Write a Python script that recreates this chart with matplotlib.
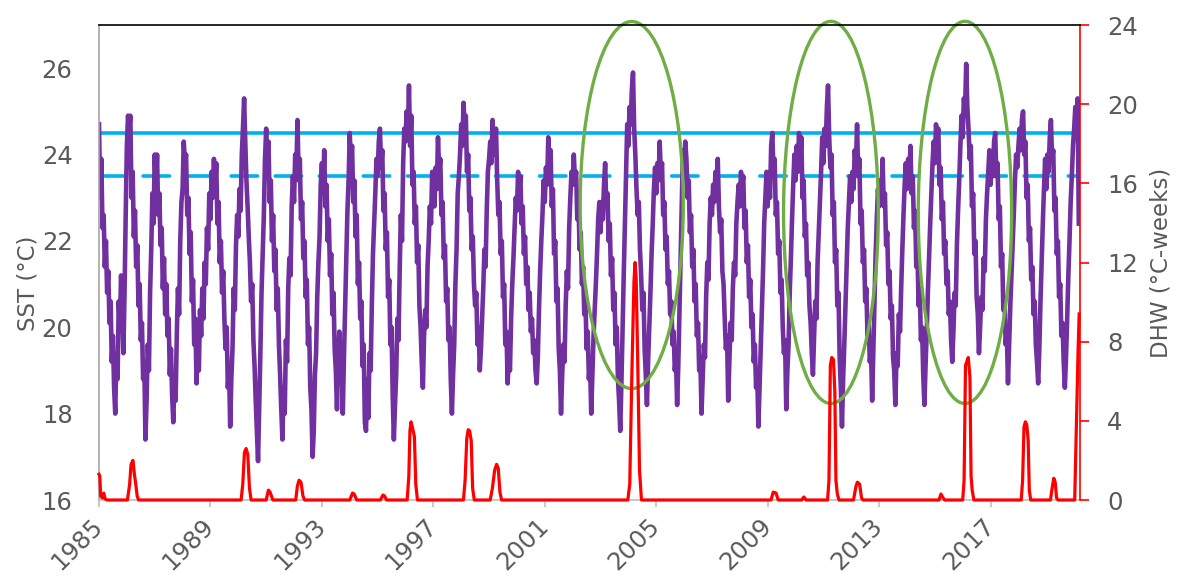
import matplotlib as mpl
import matplotlib.pyplot as plt
from matplotlib.patches import Ellipse
from matplotlib.transforms import ScaledTranslation
import numpy as np
mpl.use('agg')

sst_start = 1985.0
sst_per_year = 24
sst = [
    24.7, 23.0, 23.9, 22.3, 22.6, 21.4, 22.0, 20.8, 21.3, 20.1, 20.6, 19.2, 19.8, 18.6, 18.0, 19.4, 18.8, 20.6, 20.0, 21.2, 20.5, 19.4, 20.8, 22.6,  # 1985
    24.2, 24.9, 24.6, 24.9, 23.0, 23.6, 22.1, 22.7, 21.4, 21.9, 20.5, 21.0, 19.7, 20.1, 18.8, 19.2, 17.4, 18.3, 19.6, 19.0, 20.8, 21.8, 23.1, 22.4,  # 1986
    24.0, 23.2, 24.0, 22.6, 23.1, 21.9, 22.3, 20.9, 21.6, 20.3, 21.0, 19.8, 20.2, 18.9, 19.5, 18.4, 17.8, 18.9, 18.3, 19.8, 20.9, 20.3, 22.0, 22.9,  # 1987
    23.2, 24.3, 23.8, 24.0, 22.6, 23.0, 21.7, 22.2, 20.6, 21.1, 19.6, 20.2, 18.7, 19.6, 19.0, 20.4, 19.8, 20.9, 20.2, 21.5, 21.0, 22.3, 21.8, 23.1,  # 1988
    22.5, 23.6, 23.0, 23.9, 23.2, 23.8, 22.4, 22.9, 21.5, 22.0, 20.8, 21.3, 20.2, 19.5, 20.0, 18.6, 19.1, 17.7, 18.8, 19.5, 20.9, 20.4, 21.9, 22.6,  # 1989
    22.1, 23.2, 22.7, 24.0, 24.6, 25.3, 24.3, 23.4, 22.8, 22.1, 21.5, 20.6, 21.0, 19.7, 19.1, 18.3, 17.6, 16.9, 18.1, 19.4, 20.8, 21.7, 22.6, 23.9,  # 1990
    24.6, 23.6, 24.3, 22.9, 23.4, 22.0, 22.6, 21.3, 21.8, 20.4, 20.9, 19.6, 18.9, 18.1, 17.4, 18.6, 18.0, 19.7, 19.2, 20.9, 21.6, 21.2, 22.8, 23.5,  # 1991
    22.9, 24.0, 23.6, 24.8, 23.4, 23.9, 22.5, 22.9, 21.6, 22.0, 20.7, 21.1, 19.6, 20.0, 18.6, 18.1, 17.0, 17.6, 18.9, 19.4, 20.7, 21.5, 22.1, 23.3,  # 1992
    23.8, 23.1, 24.1, 22.8, 23.3, 22.0, 22.5, 21.2, 21.7, 20.3, 20.8, 19.5, 19.0, 18.1, 19.2, 19.9, 18.7, 19.4, 18.0, 19.3, 20.4, 21.4, 22.7, 23.4,  # 1993
    24.5, 23.8, 24.2, 22.9, 23.4, 22.1, 22.6, 21.0, 21.5, 20.2, 20.6, 19.1, 19.6, 17.8, 17.6, 18.8, 17.9, 19.4, 19.0, 20.5, 21.7, 22.4, 23.1, 23.9,  # 1994
    23.5, 24.3, 24.6, 23.7, 24.1, 22.7, 23.1, 21.8, 22.2, 20.7, 21.1, 19.6, 20.0, 18.4, 17.4, 18.2, 18.9, 20.2, 19.7, 21.3, 22.6, 22.0, 23.8, 24.6,  # 1995
    24.3, 25.0, 24.4, 25.6, 24.2, 24.9, 23.3, 23.6, 22.4, 22.8, 21.5, 21.9, 20.5, 20.0, 19.2, 18.6, 19.8, 20.4, 20.0, 21.4, 22.0, 22.8, 22.4, 23.6,  # 1996
    23.1, 22.8, 23.7, 23.2, 24.4, 23.6, 23.9, 22.6, 22.9, 21.6, 21.9, 20.6, 20.9, 19.7, 20.0, 18.8, 18.0, 18.9, 19.6, 21.0, 21.8, 23.1, 23.5, 24.0,  # 1997
    24.7, 24.2, 25.2, 24.6, 24.9, 23.6, 24.0, 22.7, 23.0, 21.8, 22.1, 21.0, 20.5, 20.8, 19.6, 20.0, 19.0, 19.5, 20.2, 20.9, 21.8, 21.4, 22.7, 23.6,  # 1998
    23.9, 24.3, 23.8, 24.8, 24.0, 24.2, 24.6, 23.4, 22.6, 22.9, 21.7, 22.0, 20.7, 21.0, 19.6, 19.9, 18.7, 19.3, 19.0, 20.2, 21.0, 21.6, 22.3, 23.0,  # 1999
    22.7, 23.6, 23.2, 23.5, 22.4, 22.8, 21.7, 22.1, 21.0, 21.4, 20.4, 20.8, 19.9, 20.2, 19.4, 19.7, 19.0, 18.7, 19.3, 20.4, 21.3, 22.0, 22.6, 23.4,  # 2000
    22.9, 23.7, 23.3, 24.4, 23.8, 24.1, 22.8, 23.2, 21.7, 22.0, 20.6, 20.9, 19.5, 19.0, 18.0, 18.9, 19.6, 19.2, 20.5, 21.3, 20.9, 22.3, 23.0, 23.6,  # 2001
    23.3, 24.0, 23.4, 23.6, 22.5, 22.9, 21.8, 22.2, 21.0, 21.4, 20.3, 20.7, 19.5, 19.9, 18.8, 19.2, 18.0, 18.9, 19.8, 20.4, 21.0, 21.7, 22.5, 22.9,  # 2002
    22.2, 22.9, 22.5, 23.3, 23.8, 22.8, 23.1, 22.0, 22.4, 21.2, 21.6, 20.4, 20.8, 19.6, 20.0, 18.8, 18.3, 17.6, 18.7, 20.0, 21.2, 22.4, 23.6, 24.7,  # 2003
    24.2, 25.1, 24.7, 25.5, 25.9, 24.6, 24.0, 23.2, 22.6, 22.9, 21.8, 21.2, 20.4, 20.8, 19.5, 18.9, 18.2, 19.2, 20.0, 20.8, 21.7, 22.4, 23.2, 23.7,  # 2004
    23.1, 23.8, 23.4, 24.3, 23.5, 23.8, 22.6, 22.9, 21.8, 22.1, 21.0, 21.3, 20.3, 20.6, 19.6, 19.9, 19.0, 19.3, 18.2, 19.1, 20.3, 21.6, 22.9, 24.1,  # 2005
    23.6, 24.3, 23.9, 23.0, 23.4, 22.2, 22.6, 21.4, 21.8, 20.6, 21.0, 19.8, 20.1, 19.0, 19.3, 18.0, 18.8, 19.6, 19.3, 20.7, 21.5, 21.1, 22.4, 23.0,  # 2006
    22.6, 23.3, 22.9, 23.6, 23.2, 23.9, 22.8, 22.2, 22.5, 21.3, 21.0, 20.2, 19.5, 19.8, 18.3, 19.2, 20.1, 19.7, 20.9, 21.5, 21.2, 22.4, 22.9, 23.3,  # 2007
    22.8, 23.6, 23.3, 23.5, 22.3, 22.7, 21.5, 21.9, 20.7, 21.1, 20.0, 20.3, 19.2, 19.6, 18.6, 18.9, 17.7, 18.6, 19.5, 20.4, 21.3, 22.4, 23.0, 23.6,  # 2008
    22.8, 23.5, 23.0, 24.2, 24.5, 23.6, 23.9, 22.6, 22.9, 21.7, 22.0, 20.8, 21.1, 20.0, 19.4, 19.7, 18.1, 19.0, 19.6, 20.8, 21.6, 22.5, 23.3, 24.0,  # 2009
    23.4, 24.2, 23.6, 24.5, 23.8, 24.4, 23.0, 23.4, 22.1, 22.4, 21.2, 21.5, 20.5, 20.1, 19.4, 18.9, 19.8, 20.6, 20.2, 21.5, 22.2, 22.9, 23.6, 24.4,  # 2010
    23.8, 24.6, 24.2, 25.1, 25.6, 24.4, 23.7, 24.0, 22.6, 22.9, 21.5, 21.8, 20.5, 20.8, 19.3, 18.6, 17.7, 18.8, 19.6, 20.5, 21.4, 22.3, 22.9, 23.5,  # 2011
    22.9, 23.6, 23.2, 24.1, 23.7, 24.7, 23.5, 23.9, 22.4, 22.7, 21.5, 21.8, 20.6, 20.9, 19.8, 20.1, 19.2, 19.5, 18.3, 19.4, 20.6, 21.7, 22.5, 23.2,  # 2012
    22.8, 23.4, 23.0, 23.9, 22.8, 23.1, 21.9, 22.2, 21.0, 21.3, 20.2, 20.5, 19.3, 19.0, 18.2, 19.4, 19.1, 20.3, 19.9, 20.9, 21.8, 22.6, 23.3, 23.8,  # 2013
    23.2, 23.9, 23.5, 24.2, 23.1, 23.5, 22.3, 22.7, 21.4, 21.8, 20.5, 20.9, 19.7, 20.0, 18.9, 18.2, 19.1, 19.9, 20.8, 21.6, 22.4, 23.1, 23.8, 24.3,  # 2014
    23.8, 24.7, 24.4, 24.6, 23.3, 23.7, 22.5, 22.9, 21.7, 22.0, 21.0, 21.3, 20.3, 20.6, 19.7, 19.2, 19.9, 20.8, 20.5, 21.9, 22.7, 23.4, 24.2, 24.9,  # 2015
    24.4, 25.3, 25.0, 26.1, 25.1, 24.6, 23.9, 24.2, 22.8, 23.1, 21.7, 22.0, 20.7, 20.3, 19.4, 20.0, 20.7, 20.4, 21.6, 21.3, 22.5, 23.1, 23.6, 24.1,  # 2016
    23.3, 23.9, 23.5, 24.3, 24.5, 23.5, 23.8, 22.5, 22.8, 21.4, 21.7, 20.4, 20.7, 19.6, 19.9, 18.7, 19.6, 20.5, 21.2, 21.9, 22.6, 23.4, 24.0, 23.7,  # 2017
    24.2, 24.6, 24.1, 24.8, 25.0, 24.0, 24.3, 23.0, 23.3, 22.0, 22.3, 21.1, 21.4, 20.3, 20.6, 19.6, 19.2, 18.7, 19.5, 20.6, 21.5, 22.4, 23.2, 23.9,  # 2018
    23.2, 24.0, 23.6, 24.4, 24.8, 23.9, 24.1, 22.7, 23.0, 21.7, 22.0, 20.7, 21.0, 19.8, 20.1, 19.2, 18.6, 19.3, 20.2, 21.2, 22.0, 22.9, 23.5, 24.2,  # 2019
    24.6, 25.1, 24.8, 25.3, 22.4,  # 2020
]

# Degree Heating Weeks (deg C-weeks), time in decimal years
dhw_t = [1985.0, 1985.03, 1985.06, 1985.12, 1985.17, 1985.22, 1985.3,
         1986.02, 1986.1, 1986.15, 1986.22, 1986.27, 1986.32, 1986.37, 1986.42,
         1990.1, 1990.16, 1990.22, 1990.28, 1990.34, 1990.4, 1990.46,
         1991.0, 1991.08, 1991.14, 1991.24,
         1992.06, 1992.12, 1992.18, 1992.25, 1992.32, 1992.38,
         1994.0, 1994.1, 1994.16, 1994.25,
         1995.1, 1995.19, 1995.25, 1995.32,
         1996.06, 1996.12, 1996.16, 1996.2, 1996.26, 1996.32, 1996.37, 1996.43,
         1998.08, 1998.14, 1998.2, 1998.25, 1998.3, 1998.36, 1998.41, 1998.47,
         1999.04, 1999.12, 1999.2, 1999.27, 1999.33, 1999.39, 1999.45,
         2003.98, 2004.05, 2004.12, 2004.2, 2004.24, 2004.28, 2004.33, 2004.4, 2004.47,
         2009.12, 2009.2, 2009.3, 2009.38,
         2010.22, 2010.3, 2010.38,
         2011.15, 2011.2, 2011.25, 2011.3, 2011.36, 2011.41, 2011.45, 2011.5, 2011.56,
         2012.08, 2012.17, 2012.22, 2012.3, 2012.37, 2012.42,
         2015.15, 2015.22, 2015.28, 2015.35,
         2016.0, 2016.05, 2016.1, 2016.15, 2016.2, 2016.26, 2016.3, 2016.34, 2016.4,
         2018.1, 2018.15, 2018.2, 2018.25, 2018.3, 2018.35, 2018.39, 2018.44,
         2019.15, 2019.22, 2019.27, 2019.32, 2019.37, 2019.42,
         2020.02, 2020.06, 2020.1, 2020.14, 2020.18]
dhw = [1.3, 1.2, 0.2, 0.1, 0.35, 0.05, 0.0,
       0.0, 0.8, 1.8, 2.0, 1.3, 0.8, 0.2, 0.0,
       0.0, 0.8, 2.4, 2.6, 2.3, 0.6, 0.0,
       0.0, 0.5, 0.4, 0.0,
       0.0, 0.7, 1.0, 0.9, 0.2, 0.0,
       0.0, 0.35, 0.3, 0.0,
       0.0, 0.25, 0.2, 0.0,
       0.0, 1.2, 3.5, 3.95, 3.6, 3.2, 0.8, 0.0,
       0.0, 1.0, 3.1, 3.55, 3.5, 3.0, 0.6, 0.0,
       0.0, 0.6, 1.5, 1.8, 1.6, 0.4, 0.0,
       0.0, 0.8, 6.0, 11.0, 12.0, 11.2, 7.5, 1.5, 0.0,
       0.0, 0.4, 0.35, 0.0,
       0.0, 0.15, 0.0,
       0.0, 1.0, 6.8, 7.2, 7.1, 5.5, 1.0, 0.3, 0.0,
       0.0, 0.7, 0.9, 0.8, 0.1, 0.0,
       0.0, 0.3, 0.15, 0.0,
       0.0, 1.0, 6.8, 7.0, 7.2, 6.2, 1.2, 0.5, 0.0,
       0.0, 1.0, 3.7, 3.95, 3.8, 3.0, 0.5, 0.0,
       0.0, 0.7, 1.1, 0.9, 0.1, 0.0,
       0.0, 2.5, 5.0, 7.5, 9.4]

bleaching_threshold = 24.5   # solid line
mmm = 23.5                   # dashed line
event_years = [2004.12, 2011.27, 2016.08]
tick_years = [1985, 1989, 1993, 1997, 2001, 2005, 2009, 2013, 2017]

grey = '#595959'
fs = 17.5

fig = plt.figure(figsize=(11.79, 5.76), dpi=100)
ax = fig.add_axes([99 / 1179, 76 / 576, 981 / 1179, 475 / 576])
ax2 = ax.twinx()

sst_t = sst_start + np.arange(len(sst)) / sst_per_year
ax.axhline(bleaching_threshold, color='#00B0F0', lw=2.6, zorder=1)
ax.axhline(mmm, color='#00B0F0', lw=2.6, ls=(0, (7.3, 4.9)),
           dash_capstyle='round', zorder=1)
ax.plot(sst_t, sst, color='#7030A0', lw=3.3, zorder=2)
ax2.plot(dhw_t, dhw, color='#FF0000', lw=2.3, clip_on=False)

# green rings round the three big events
ring_w = [3.7, 3.4, 3.35]
ring_h = [8.5, 8.85, 8.85]
ring_y = [22.83, 22.66, 22.66]
for x0, w, h, y0 in zip(event_years, ring_w, ring_h, ring_y):
    e = Ellipse((x0, y0), w, h, fill=False, ec='#70AD47', lw=2.4,
                transform=ax.transData, clip_on=False)
    ax2.add_patch(e)

ax.set_xlim(1985.0, 2020.21)
ax.set_ylim(16, 27)
ax2.set_ylim(0, 24)

ax.set_xticks(tick_years)
ax.set_xticklabels([str(y) for y in tick_years], rotation=45, ha='right',
                   va='center', rotation_mode='anchor')
shift = ScaledTranslation(4 / 72, 0, fig.dpi_scale_trans)
for lbl in ax.get_xticklabels():
    lbl.set_transform(lbl.get_transform() + shift)
ax.set_yticks([16, 18, 20, 22, 24, 26])
ax2.set_yticks([0, 4, 8, 12, 16, 20, 24])

ax.tick_params(axis='x', length=5, width=1.2, color='#BFBFBF', pad=11,
               labelsize=fs, labelcolor=grey)
ax.tick_params(axis='y', length=0, pad=19, labelsize=fs, labelcolor=grey)
ax2.tick_params(axis='y', length=6.5, width=1.2, color='#FF0000', pad=13,
                labelsize=fs, labelcolor=grey)

for s in ['top', 'right']:
    ax.spines[s].set_visible(False)
ax.spines['left'].set_color('#A6A6A6')
ax.spines['left'].set_linewidth(1.2)
ax.spines['bottom'].set_color('#BFBFBF')
ax.spines['bottom'].set_linewidth(1.2)
for s in ['left', 'bottom']:
    ax2.spines[s].set_visible(False)
ax2.spines['top'].set_color('#000000')
ax2.spines['top'].set_linewidth(1.2)
ax2.spines['right'].set_color('#FF0000')
ax2.spines['right'].set_linewidth(1.2)

ax.set_ylabel('SST (°C)', fontsize=16.5, color=grey)
ax.yaxis.set_label_coords(-0.061, 0.457)
ax2.set_ylabel('DHW (°C-weeks)', fontsize=16.5, color=grey)
ax2.yaxis.set_label_coords(1.071, 0.5)

fig.savefig('out.png', dpi=100)
